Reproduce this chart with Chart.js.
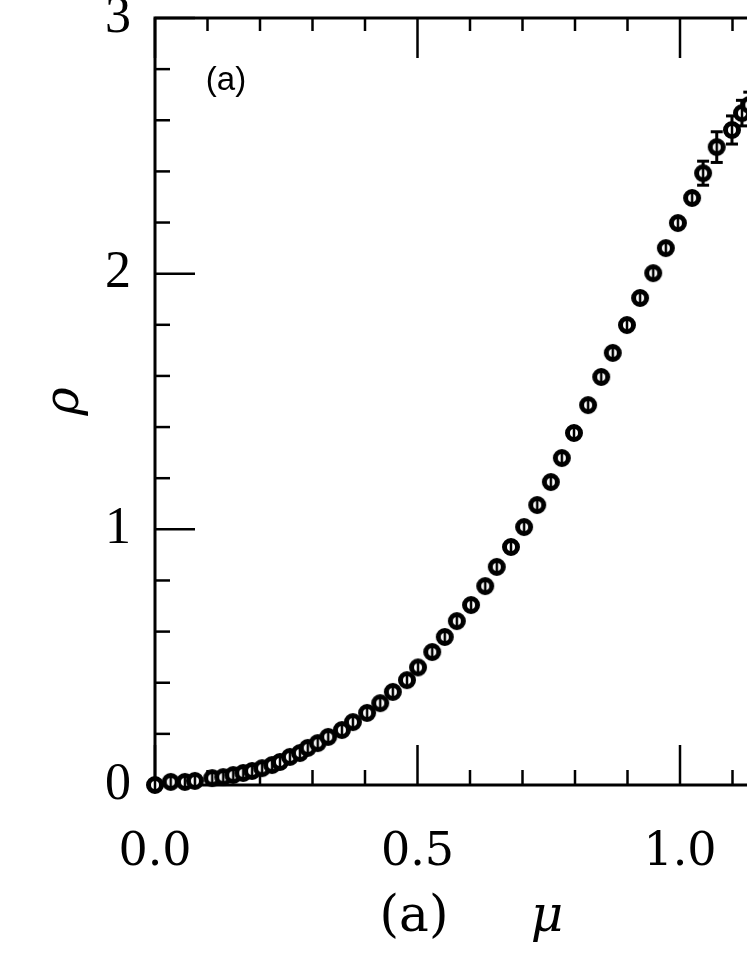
<!DOCTYPE html>
<html><head><meta charset="utf-8">
<script src="https://cdn.jsdelivr.net/npm/chart.js@4/dist/chart.umd.min.js"></script>
<style>
html,body{margin:0;padding:0;background:#fff;overflow:hidden;width:747px;height:967px;}
#wrap{position:absolute;left:0;top:-40px;width:800px;height:1007px;}
canvas{display:block;}
</style></head><body>
<div id="wrap"><canvas id="c" width="800" height="1007" style="width:800px;height:1007px"></canvas></div>
<script>
// ---- data ----
const muValues = [0.00,0.030,0.057,0.076,0.109,0.130,0.149,0.168,0.185,0.204,
  0.223,0.238,0.257,0.276,0.291,0.310,0.330,0.356,0.377,0.404,
  0.429,0.453,0.480,0.501,0.528,0.552,0.575,0.602,0.629,0.651,
  0.678,0.703,0.728,0.754,0.775,0.798,0.825,0.850,0.872,0.899,
  0.924,0.949,0.973,0.996,1.023,1.044,1.070,1.099,1.118,1.132];
const rhoValues = [0.000,0.012,0.012,0.016,0.027,0.031,0.039,0.047,0.055,0.066,
  0.078,0.090,0.110,0.125,0.145,0.164,0.188,0.215,0.246,0.282,
  0.320,0.364,0.410,0.460,0.520,0.579,0.641,0.704,0.778,0.853,
  0.931,1.009,1.095,1.185,1.279,1.377,1.486,1.596,1.690,1.799,
  1.905,2.002,2.100,2.198,2.296,2.393,2.495,2.562,2.628,2.660];
const rhoErrors = [0,0,0,0,0,0,0,0,0,0, 0,0,0,0,0,0,0,0,0,0,
  0,0,0,0,0,0,0,0,0,0, 0,0,0,0,0,0,0,0,0,0,
  0,0,0,0,0,0.047,0.060,0.055,0.050,0.050];
const xMajorTicks = [0, 0.5, 1.0];
const xMinorTicks = [0.1,0.2,0.3,0.4,0.6,0.7,0.8,0.9,1.1];
const yMajorTicks = [0, 1, 2, 3];
const yMinorTicks = [0.2,0.4,0.6,0.8,1.2,1.4,1.6,1.8,2.2,2.4,2.6,2.8];
const panelLabel = '(a)';
const xTitleParts = ['(a)', 'μ'];
const yTitle = 'ρ';

function makeMarker(){
  const c = document.createElement('canvas'); c.width = 24; c.height = 24;
  const g = c.getContext('2d');
  g.fillStyle = '#fff'; g.beginPath(); g.arc(12,12,6.5,0,Math.PI*2); g.fill();
  g.strokeStyle = '#000'; g.lineWidth = 5; g.stroke();
  g.lineWidth = 2.5; g.beginPath(); g.moveTo(12,6); g.lineTo(12,18); g.stroke();
  return c;
}

const framePlugin = {
  id: 'frame',
  beforeDatasetsDraw(chart){
    const {ctx, chartArea:a, scales:{x, y}} = chart;
    ctx.save();
    ctx.strokeStyle = '#000';
    ctx.lineWidth = 3;
    ctx.strokeRect(a.left, a.top, a.right - a.left, a.bottom - a.top);
    const seg = (x1,y1,x2,y2)=>{ctx.beginPath();ctx.moveTo(x1,y1);ctx.lineTo(x2,y2);ctx.stroke();};
    ctx.lineWidth = 2.5;
    xMajorTicks.forEach(v=>{const p=x.getPixelForValue(v); seg(p,a.bottom,p,a.bottom-40); seg(p,a.top,p,a.top+40);});
    xMinorTicks.forEach(v=>{const p=x.getPixelForValue(v); seg(p,a.bottom,p,a.bottom-15); seg(p,a.top,p,a.top+13);});
    yMajorTicks.forEach(v=>{const p=y.getPixelForValue(v); seg(a.left,p,a.left+40,p); seg(a.right,p,a.right-30,p);});
    yMinorTicks.forEach(v=>{const p=y.getPixelForValue(v); seg(a.left,p,a.left+15,p); seg(a.right,p,a.right-12,p);});
    // error bars
    ctx.lineWidth = 3;
    muValues.forEach((m,i)=>{
      const e = rhoErrors[i]; if(!e) return;
      const px = x.getPixelForValue(m);
      const y1 = y.getPixelForValue(rhoValues[i]-e), y2 = y.getPixelForValue(rhoValues[i]+e);
      seg(px,y1,px,y2); seg(px-6,y1,px+6,y1); seg(px-6,y2,px+6,y2);
    });
    ctx.restore();
  },
  afterDraw(chart){
    const {ctx, chartArea:a} = chart;
    ctx.save();
    ctx.fillStyle = '#000';
    ctx.textAlign = 'center';
    ctx.textBaseline = 'middle';
    ctx.font = '33px "Liberation Sans"';
    ctx.fillText(panelLabel, a.left + 71, a.top + 63);
    ctx.textBaseline = 'alphabetic';
    ctx.font = '50px "DejaVu Serif"';
    ctx.fillText(xTitleParts[0], a.left + 259, a.bottom + 146);
    ctx.font = 'italic 50px "DejaVu Serif"';
    ctx.fillText(xTitleParts[1], a.left + 392, a.bottom + 146);
    ctx.restore();
  }
};

Chart.defaults.color = '#000';
new Chart(document.getElementById('c'), {
  type: 'scatter',
  data: { datasets: [{
    data: muValues.map((m,i)=>({x:m, y:rhoValues[i]})),
    pointStyle: makeMarker(),
    showLine: false,
    clip: false
  }]},
  options: {
    responsive: false, animation: false, devicePixelRatio: 1,
    layout: { padding: { top: 58, right: 15, left: 0, bottom: 0 } },
    plugins: { legend: {display:false}, tooltip: {enabled:false} },
    scales: {
      x: {
        type: 'linear', min: 0, max: 1.2, position: 'bottom',
        afterBuildTicks: s => { s.ticks = xMajorTicks.map(v=>({value:v})); },
        afterFit: s => { s.height = 182; },
        grid: { display: false, drawTicks: false },
        border: { display: false },
        ticks: { callback: v => Number(v).toFixed(1), font: { family: 'DejaVu Serif', size: 46 }, padding: 40, maxRotation: 0, autoSkip: false, color: '#000' }
      },
      y: {
        type: 'linear', min: 0, max: 3,
        afterBuildTicks: s => { s.ticks = yMajorTicks.map(v=>({value:v})); },
        afterFit: s => { s.width = 155; },
        grid: { display: false, drawTicks: false },
        border: { display: false },
        ticks: { callback: v => String(v), font: { family: 'Liberation Serif', size: 52 }, padding: 24, autoSkip: false, color: '#000' },
        title: { display: true, text: yTitle, font: { family: 'DejaVu Serif', size: 48, style: 'italic' }, padding: { top: 37, bottom: 0 }, color: '#000' }
      }
    }
  },
  plugins: [framePlugin]
});
</script>
</body></html>
